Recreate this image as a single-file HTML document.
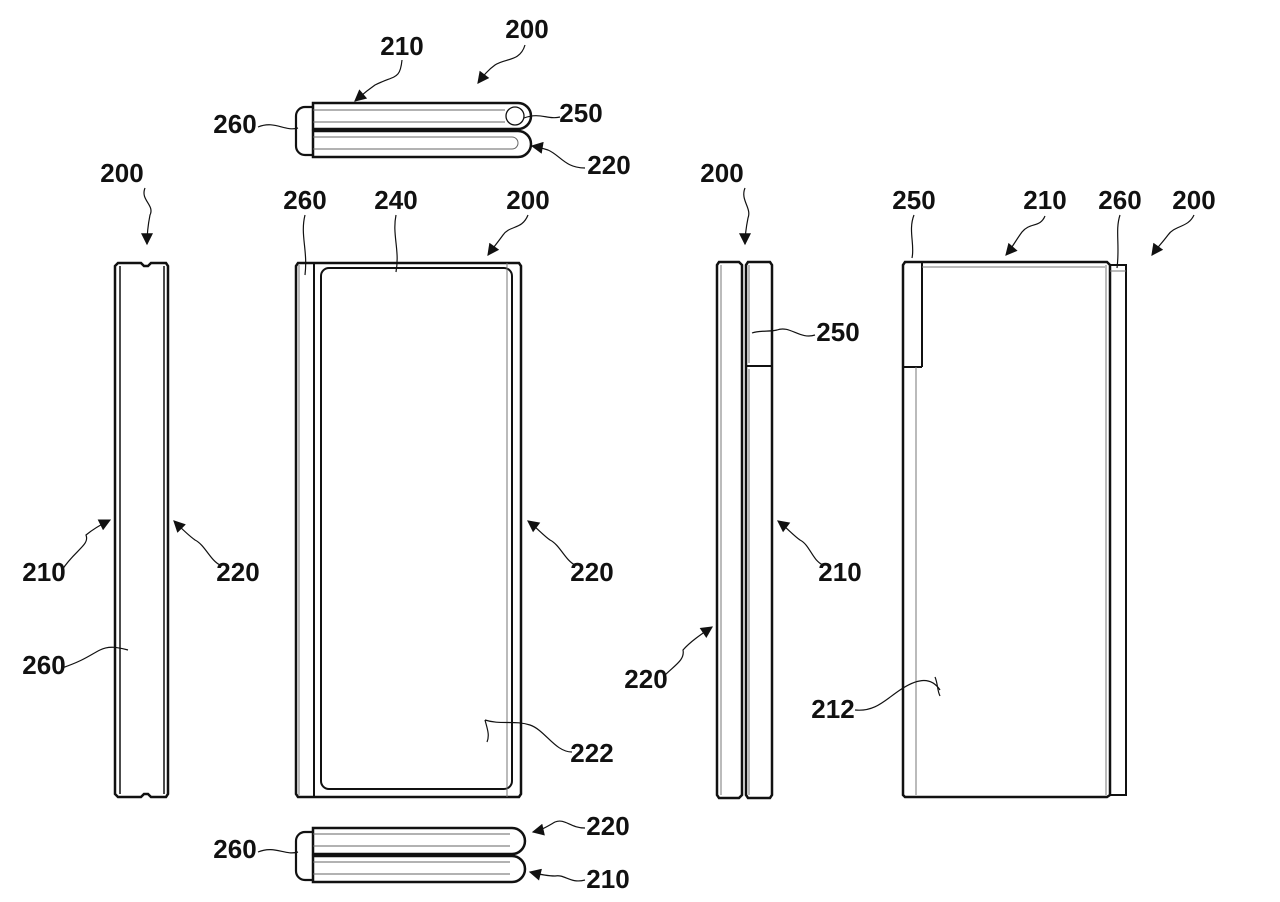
<!DOCTYPE html>
<html><head><meta charset="utf-8"><style>
html,body{margin:0;padding:0;background:#fff}
svg{display:block}
text{font-family:"Liberation Sans Narrow","Liberation Sans",sans-serif;font-weight:bold;font-size:26px;fill:#111;text-anchor:middle}
</style></head><body>
<svg width="1280" height="902" viewBox="0 0 1280 902" xmlns="http://www.w3.org/2000/svg">
<defs>
<marker id="ah" viewBox="0 0 10 10" refX="9" refY="5" markerWidth="16" markerHeight="12" orient="auto-start-reverse" markerUnits="userSpaceOnUse">
<path d="M0,0 L10,5 L0,10 z" fill="#111"/></marker>
</defs>
<g fill="none" stroke="#111" stroke-width="1.3">
<!-- top view -->
<path d="M313,103 H518 A12.5,12.5 0 0 1 518,129 H313 Z" stroke-width="2.5"/>
<circle cx="515" cy="116" r="9"/>
<path d="M313,131 H518 A13,13 0 0 1 518,157 H313 Z" stroke-width="2.5"/>
<path d="M313,110 H505 M313,122 H505 M313,137 H512 A6,6 0 0 1 512,149 H313" stroke="#666" stroke-width="1"/>
<path d="M313,107 H305 A9,9 0 0 0 296,116 V146 A9,9 0 0 0 305,155 H313" stroke-width="2.2"/>
<!-- bottom view -->
<path d="M313,828 H512 A13,13 0 0 1 512,854 H313 Z" stroke-width="2.5"/>
<path d="M313,856 H512 A13,13 0 0 1 512,882 H313 Z" stroke-width="2.5"/>
<path d="M313,834 H510 M313,846 H510 M313,862 H510 M313,874 H510" stroke="#666" stroke-width="1"/>
<path d="M313,832 H305 A9,9 0 0 0 296,841 V871 A9,9 0 0 0 305,880 H313" stroke-width="2.2"/>
<!-- left side view -->
<path d="M118,263 H141 L144,266 H148 L151,263 H166 L168,266 V794 L166,797 H151 L148,794 H144 L141,797 H118 L115,794 V266 Z" stroke-width="2.5"/>
<path d="M120,266 V794 M164,266 V794" stroke-width="1.5"/>
<!-- front view -->
<path d="M298,263 H519 L521,266 V794 L519,797 H298 L296,794 V266 Z" stroke-width="2.5"/>
<path d="M314,263 V797" stroke-width="2"/>
<path d="M299,265 V795" stroke="#777" stroke-width="1"/>
<rect x="321" y="268" width="191" height="521" rx="8" stroke-width="2"/>
<path d="M507,263 V797" stroke="#777" stroke-width="1"/>
<!-- third side view -->
<path d="M719,262 H739 L742,265 V795 L739,798 H719 L717,795 V265 Z" stroke-width="2.5"/>
<path d="M748,262 H770 L772,265 V795 L770,798 H748 L746,795 V265 Z" stroke-width="2.5"/>
<path d="M746,366 H772" stroke-width="2"/>
<path d="M749,265 V363 M749,369 V795 M721,265 V795" stroke="#777" stroke-width="1"/>
<!-- back view -->
<path d="M905,262 H1107 L1110,265 V795 L1107,797 H905 L903,795 V265 Z" stroke-width="2.5"/>
<path d="M922,262 V367 M903,367 H922" stroke-width="2"/>
<path d="M1110,265 H1126 V795 H1110" stroke-width="2"/>
<path d="M1110,271 H1126 M916,367 V795 M922,267 H1105 M1106,265 V795" stroke="#777" stroke-width="1"/>
<!-- leaders with arrows -->
<g stroke-width="1.2">
<path d="M402,60 C400,80 395,75 375,85 C365,92 362,95 355,101" marker-end="url(#ah)"/>
<path d="M525,45 C520,62 505,58 495,65 C488,70 484,75 478,83" marker-end="url(#ah)"/>
<path d="M145,188 C140,200 155,205 150,215 C148,225 147,235 147,244" marker-end="url(#ah)"/>
<path d="M528,215 C522,230 510,225 503,235 C498,242 493,248 488,255" marker-end="url(#ah)"/>
<path d="M745,188 C740,200 752,208 748,218 C746,228 745,236 745,244" marker-end="url(#ah)"/>
<path d="M1194,215 C1188,228 1175,225 1168,235 C1162,243 1157,248 1152,255" marker-end="url(#ah)"/>
<path d="M1045,216 C1040,228 1030,222 1022,232 C1016,240 1012,248 1006,255" marker-end="url(#ah)"/>
<path d="M585,168 C565,168 560,155 548,150 C542,148 538,147 532,146" marker-end="url(#ah)"/>
<path d="M62,570 C75,550 90,545 86,535 C92,530 100,525 110,520" marker-end="url(#ah)"/>
<path d="M220,565 C210,560 205,545 195,540 C188,535 180,527 174,521" marker-end="url(#ah)"/>
<path d="M575,565 C565,560 560,545 550,540 C543,535 536,527 528,521" marker-end="url(#ah)"/>
<path d="M823,565 C812,560 810,545 800,540 C793,535 786,527 778,521" marker-end="url(#ah)"/>
<path d="M664,676 C675,665 685,660 683,650 C690,642 700,635 712,627" marker-end="url(#ah)"/>
<path d="M585,828 C570,828 565,818 555,822 C548,826 542,830 533,832" marker-end="url(#ah)"/>
<path d="M585,880 C570,884 565,874 555,876 C548,876 542,875 530,872" marker-end="url(#ah)"/>
<!-- plain leaders -->
<path d="M258,127 C275,120 285,132 298,128"/>
<path d="M560,117 C548,120 540,112 524,118"/>
<path d="M815,335 C800,340 790,325 777,330 C770,332 760,330 752,333"/>
<path d="M62,668 C85,660 90,655 100,650 C110,645 120,648 128,650"/>
<path d="M305,215 C300,235 308,250 305,275"/>
<path d="M396,215 C392,235 400,250 396,272"/>
<path d="M914,215 C908,230 915,245 912,258"/>
<path d="M1120,215 C1115,230 1120,245 1117,268"/>
<path d="M855,710 C875,712 885,700 900,690 C915,680 930,675 940,690"/>
<path d="M572,752 C555,752 545,730 530,725 C515,720 500,725 485,720 M485,720 C487,728 490,735 487,742"/>
<path d="M258,852 C275,845 285,856 298,852"/>
<path d="M935,677 C938,684 937,690 940,696"/>
</g>
</g>
<g>
<text x="402" y="55">210</text>
<text x="527" y="38">200</text>
<text x="581" y="122">250</text>
<text x="235" y="133">260</text>
<text x="609" y="174">220</text>
<text x="122" y="182">200</text>
<text x="305" y="209">260</text>
<text x="396" y="209">240</text>
<text x="528" y="209">200</text>
<text x="722" y="182">200</text>
<text x="914" y="209">250</text>
<text x="1045" y="209">210</text>
<text x="1120" y="209">260</text>
<text x="1194" y="209">200</text>
<text x="838" y="341">250</text>
<text x="44" y="581">210</text>
<text x="238" y="581">220</text>
<text x="592" y="581">220</text>
<text x="840" y="581">210</text>
<text x="44" y="674">260</text>
<text x="646" y="688">220</text>
<text x="833" y="718">212</text>
<text x="592" y="762">222</text>
<text x="235" y="858">260</text>
<text x="608" y="835">220</text>
<text x="608" y="888">210</text>
</g>
</svg>
</body></html>
